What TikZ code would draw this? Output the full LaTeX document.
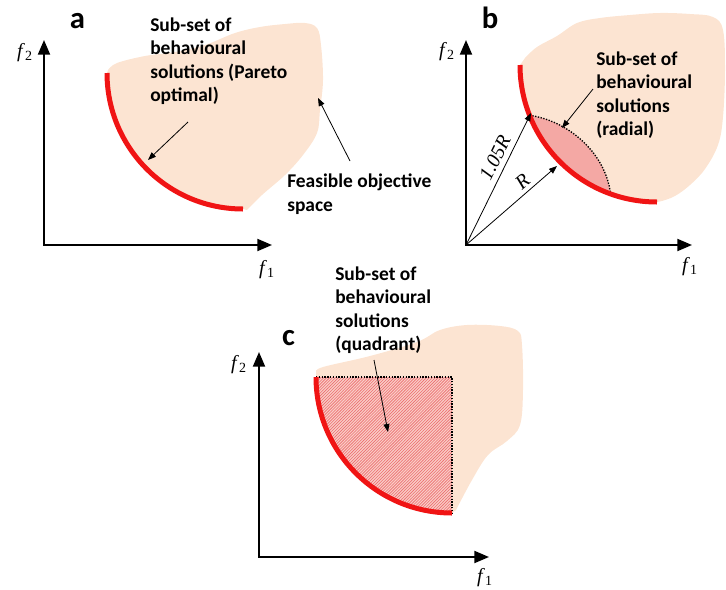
\documentclass[tikz,border=0pt]{standalone}
\usepackage{fontspec}
\setmainfont{Carlito}
\newfontfamily\tnr{Liberation Serif}
\usetikzlibrary{arrows.meta,patterns}
\definecolor{blobc}{RGB}{252,228,210}
\definecolor{redc}{RGB}{240,20,20}
\definecolor{lensc}{RGB}{244,168,164}
\definecolor{hatchbg}{RGB}{250,205,200}
\definecolor{hatchln}{RGB}{236,110,110}
\pgfdeclarepatternformonly{finehatch}{\pgfqpoint{-1pt}{-1pt}}{\pgfqpoint{3.2pt}{3.2pt}}{\pgfqpoint{2.2pt}{2.2pt}}{%
  \pgfsetlinewidth{0.45pt}%
  \pgfpathmoveto{\pgfqpoint{0pt}{0pt}}%
  \pgfpathlineto{\pgfqpoint{2.3pt}{2.3pt}}%
  \pgfusepath{stroke}}
\begin{document}
\begin{tikzpicture}[x=0.75pt,y=-0.75pt,
 blob/.style={fill=blobc},
 front/.style={draw=redc,line width=3.75pt},
 axisline/.style={line width=1.5pt,{Triangle[length=11pt,width=9pt]}-{Triangle[length=11pt,width=9pt]}},
 ptr/.style={line width=0.6pt,-{Triangle[length=6pt,width=4.5pt]}},
 lbl/.style={font=\bfseries\fontsize{14.6}{17.3}\selectfont, align=left, anchor=north west, inner sep=0pt},
 panel/.style={font=\bfseries\fontsize{23}{26}\selectfont, anchor=base, inner sep=0pt},
 axl/.style={font=\tnr\fontsize{15}{17}\selectfont, inner sep=0pt},
 rl/.style={font=\tnr\itshape\fontsize{15}{17}\selectfont, inner sep=0pt},
 dotb/.style={line width=1pt, dash pattern=on 1pt off 1.1pt}
]
\useasboundingbox (0,0) rectangle (726,590);

% ---------------- panel a ----------------
\fill[blob] (107,73) .. controls (107,148) and (168,209) .. (243,209)
  -- plot[smooth, tension=0.6] coordinates {(247,210) (262,195) (285,175) (303,155) (317,133) (320,110) (323,80) (321,45) (317,28) (305,23) (285,24) (260,27) (235,33) (205,45) (175,52) (145,56) (117,63) (108,70)} -- cycle;
\draw[front] (107,73) .. controls (107,148) and (168,209) .. (243,209);
\coordinate (ya) at (44,40);
\coordinate (oa) at (44,245);
\coordinate (xa) at (272,245);
\draw[axisline] (ya) -- (oa) -- (xa);
\node[axl] (f2a) at (25,53) {\textit{f}\textsubscript{2}};
\node[axl] (f1a) at (267,270) {\textit{f}\textsubscript{1}};
\node[panel] (pa) at (77.5,28) {a};
\node[lbl] (ta) at (150,18) {Sub-set of\\behavioural\\solutions (Pareto\\optimal)};
\node[lbl] (fa) at (287,174) {Feasible objective\\space};
\coordinate (a1s) at (188,122);
\coordinate (a1e) at (148,160);
\draw[ptr] (a1s) -- (a1e);
\coordinate (a2s) at (350,161);
\coordinate (a2e) at (318,98);
\draw[ptr] (a2s) -- (a2e);

% ---------------- panel b ----------------
\fill[blob] (520,65) .. controls (520,140.7) and (581.3,202) .. (657,202)
  -- plot[smooth, tension=0.6] coordinates {(662,201) (675,196) (690,185) (705,169) (718,145) (723,117) (725,70) (723,30) (713,17) (690,14) (660,13) (630,15) (600,18) (577,23) (557,36) (537,47) (525,58)} -- cycle;
\coordinate (p1) at (529.6,115.4);
\coordinate (p2) at (610.6,193.9);
\fill[lensc] (p1) .. controls (565,120) and (605,150) .. (p2)
  .. controls (573.6,180.6) and (544.1,151.9) .. (p1) -- cycle;
\draw[dotb] (p1) .. controls (565,120) and (605,150) .. (p2);
\draw[front] (520,65) .. controls (520,140.7) and (581.3,202) .. (657,202);
\coordinate (yb) at (466,40);
\coordinate (ob) at (466,245);
\coordinate (xb) at (692,245);
\draw[axisline] (yb) -- (ob) -- (xb);
\node[axl] (f2b) at (447,52) {\textit{f}\textsubscript{2}};
\node[axl] (f1b) at (690,267) {\textit{f}\textsubscript{1}};
\node[panel] (pb) at (490,28) {b};
\coordinate (rt1) at (531,113);
\coordinate (rt2) at (557,166);
\draw[ptr] (ob) -- node[rl, sloped, above=4pt, pos=0.62] (l105) {1.05R} (rt1);
\draw[ptr] (ob) -- node[rl, sloped, above=3pt, pos=0.7] (lr) {R} (rt2);
\node[lbl] (tb) at (596,52) {Sub-set of\\behavioural\\solutions\\(radial)};
\coordinate (b1s) at (593,89);
\coordinate (b1e) at (562,128);
\draw[ptr] (b1s) -- (b1e);

% ---------------- panel c ----------------
\fill[blob] (316,377) .. controls (316,452.1) and (376.9,513) .. (452,513)
  -- plot[smooth, tension=0.6] coordinates {(456,510) (472,480) (488,455) (507,441) (520,425) (523,390) (522,345) (518,331) (500,326) (467,325) (440,330) (417,342) (370,356) (323,367) (316,372)} -- cycle;
\fill[hatchbg] (316,377) .. controls (316,452.1) and (376.9,513) .. (452,513) -- (452,377) -- cycle;
\fill[pattern=finehatch, pattern color=hatchln] (316,377) .. controls (316,452.1) and (376.9,513) .. (452,513) -- (452,377) -- cycle;
\draw[dotb] (316,377) -- (452,377) -- (452,513);
\draw[front] (316,377) .. controls (316,452.1) and (376.9,513) .. (452,513);
\coordinate (yc) at (259,352);
\coordinate (oc) at (259,557);
\coordinate (xc) at (489,557);
\draw[axisline] (yc) -- (oc) -- (xc);
\node[axl] (f2c) at (239,365) {\textit{f}\textsubscript{2}};
\node[axl] (f1c) at (485,578) {\textit{f}\textsubscript{1}};
\node[panel] (pc) at (288.5,345) {c};
\node[lbl] (tc) at (335,267) {Sub-set of\\behavioural\\solutions\\(quadrant)};
\coordinate (c1s) at (374,360);
\coordinate (c1e) at (388,432);
\draw[ptr] (c1s) -- (c1e);
\end{tikzpicture}
\end{document}
